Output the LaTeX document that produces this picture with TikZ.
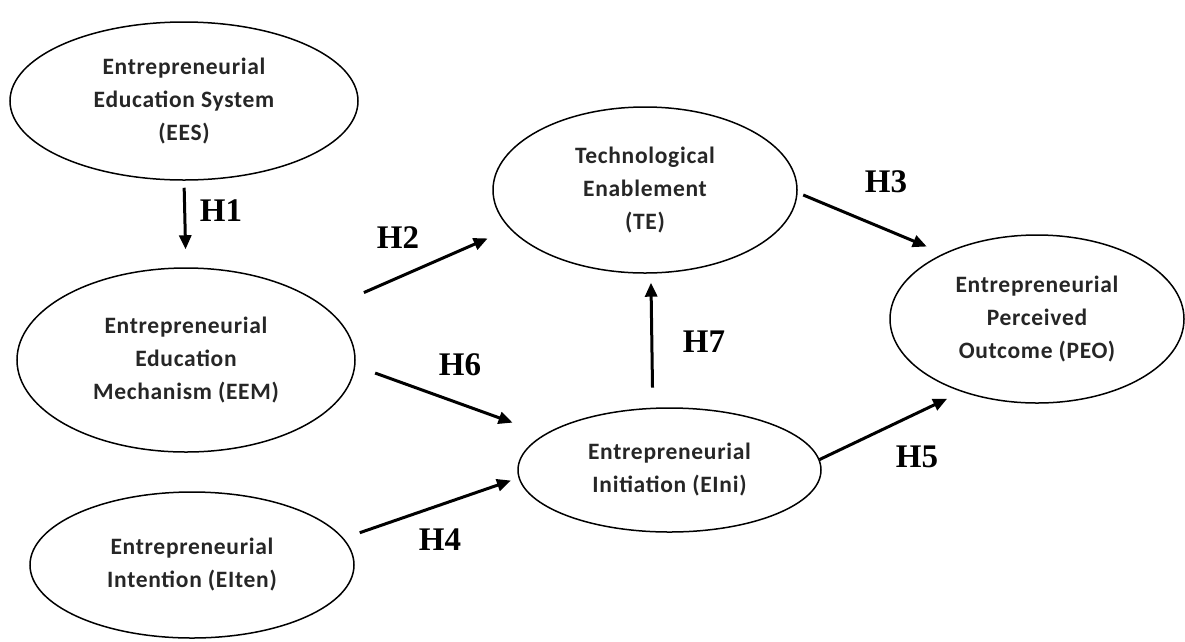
\documentclass[tikz,border=0pt]{standalone}
\usepackage{fontspec}
\newfontfamily\constructfont[LetterSpace=3]{Carlito}
\newfontfamily\hypfont{Liberation Serif}
\usetikzlibrary{shapes,arrows.meta,positioning,calc}

\tikzset{
  construct/.style={ellipse, draw, line width=1.5pt, inner sep=0pt, align=center,
    font=\constructfont\bfseries\fontsize{23.5}{33}\selectfont, text=black!85},
  hyp/.style={-{Triangle[length=14pt,width=12pt]}, line width=3pt},
  hyplabel/.style={font=\hypfont\bfseries\fontsize{33}{36}\selectfont, inner sep=0pt}
}

\begin{document}
\begin{tikzpicture}[x=1pt,y=-1pt]
\useasboundingbox (0,0) rectangle (1185,641);
\node[construct, minimum width=348pt, minimum height=158pt] (EES) at (184,101) {Entrepreneurial\\Education System\\(EES)};
\node[construct, minimum width=338pt, minimum height=184pt] (EEM) at (186,360) {Entrepreneurial\\Education\\Mechanism (EEM)};
\node[construct, minimum width=324pt, minimum height=146pt] (EIten) at (192,565) {Entrepreneurial\\Intention (EIten)};
\node[construct, minimum width=304pt, minimum height=166pt] (TE) at (645,190) {Technological\\Enablement\\(TE)};
\node[construct, minimum width=303pt, minimum height=124pt] (EIni) at (669.5,470) {Entrepreneurial\\Initiation (EIni)};
\node[construct, minimum width=294pt, minimum height=168pt] (PEO) at (1037,319) {Entrepreneurial\\Perceived\\Outcome (PEO)};

\draw[hyp, shorten <=7pt, shorten >=18pt] (EES.south) -- (EEM.north);
\draw[hyp, shorten <=40pt, shorten >=24pt] (EEM.20) -- (TE.196);
\draw[hyp, shorten <=6pt, shorten >=18pt] (TE.359) -- (PEO.145);
\draw[hyp, shorten <=17pt, shorten >=8pt] (EIten.10.5) -- (EIni.183.6);
\draw[hyp, shorten >=16pt] (EIni.4.6) -- (PEO.224);
\draw[hyp, shorten <=21pt, shorten >=34pt] (EEM.358.5) -- (EIni.164);
\draw[hyp, shorten <=20pt, shorten >=9pt] (EIni.105) -- (TE.274.5);

\node[hyplabel] (lblH1) at (221,211) {H1};
\node[hyplabel] (lblH2) at (398,238) {H2};
\node[hyplabel] (lblH3) at (886,182) {H3};
\node[hyplabel] (lblH4) at (440,540) {H4};
\node[hyplabel] (lblH5) at (917,457) {H5};
\node[hyplabel] (lblH6) at (460,365) {H6};
\node[hyplabel] (lblH7) at (704,342) {H7};
\end{tikzpicture}
\end{document}
